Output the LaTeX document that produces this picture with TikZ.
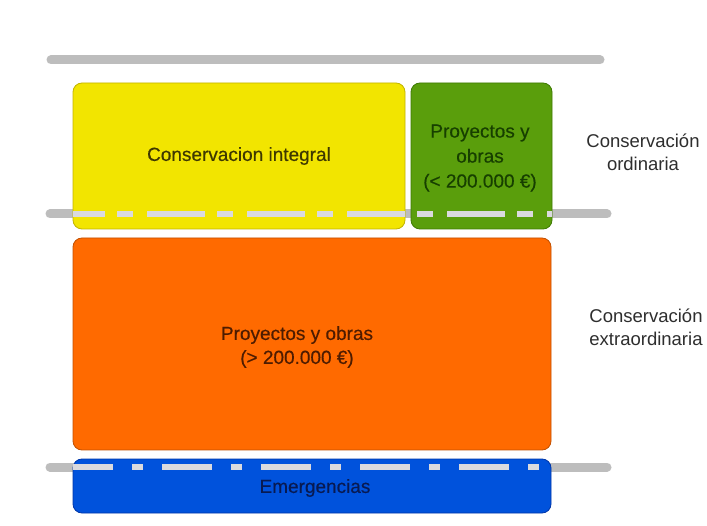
\documentclass[tikz,border=0pt]{standalone}
\usepackage{fontspec}
\setmainfont{Liberation Sans}
\newfontfamily\boxfont[FakeBold=0.35]{Liberation Sans}
\definecolor{barg}{HTML}{BDBDBD}
\definecolor{dashc}{HTML}{DADADE}
\definecolor{yelf}{HTML}{F2E500}
\definecolor{yeld}{HTML}{C2B400}
\definecolor{yelt}{HTML}{3E3800}
\definecolor{grnf}{HTML}{5A9E0C}
\definecolor{grnd}{HTML}{3E7A02}
\definecolor{grnt}{HTML}{173F00}
\definecolor{orgf}{HTML}{FF6A00}
\definecolor{orgd}{HTML}{C25000}
\definecolor{orgt}{HTML}{4E1C00}
\definecolor{bluf}{HTML}{0052DC}
\definecolor{blud}{HTML}{0036A8}
\definecolor{blut}{HTML}{081A52}
\definecolor{sidec}{HTML}{2E2E2E}
\begin{document}
\begin{tikzpicture}[x=1pt,y=-1pt,
  bar/.style={line width=9pt, draw=barg, line cap=round},
  box/.style={rounded corners=9pt, line width=0.8pt, inner sep=0pt, align=center,
              font=\boxfont\fontsize{19}{25}\selectfont},
  lbl/.style={align=center, font=\boxfont\fontsize{19}{24}\selectfont, inner sep=0pt},
  side/.style={align=center, font=\fontsize{18.5}{23}\selectfont, text=sidec, inner sep=0pt},
  dashA/.style={line width=6pt, draw=dashc, dash pattern=on 58pt off 12pt on 16pt off 14pt, dash phase=26pt},
  dashB/.style={line width=6pt, draw=dashc, dash pattern=on 50pt off 19pt on 11pt off 19pt, dash phase=10pt},
]
\useasboundingbox (0,0) rectangle (707,526);
\fill[white] (0,0) rectangle (707,526);

% bars
\coordinate (t1) at (51,60);
\coordinate (t2) at (600,60);
\coordinate (m1) at (50,214);
\coordinate (m2) at (607,214);
\coordinate (b1) at (50,467);
\coordinate (b2) at (607,467);
\draw[bar] (t1) -- (t2);
\draw[bar] (m1) -- (m2);
\draw[bar] (b1) -- (b2);

% boxes
\node[box, draw=yeld, fill=yelf, text=yelt, minimum width=332pt, minimum height=146pt]
  (integral) at (239,156) {Conservacion integral};
\node[box, draw=grnd, fill=grnf, minimum width=141pt, minimum height=146pt]
  (pequenas) at (481.5,156) {};
\node[box, draw=orgd, fill=orgf, minimum width=478pt, minimum height=212pt]
  (grandes) at (312,344) {};
\node[box, draw=blud, fill=bluf, minimum width=478pt, minimum height=54pt]
  (emerg) at (312,486) {};

% dashed overlays
\coordinate (dm1) at (73,214);
\coordinate (dm2) at (552,214);
\coordinate (db1) at (73,467);
\coordinate (db2) at (552,467);
\draw[dashA] (dm1) -- (dm2);
\draw[dashB] (db1) -- (db2);

% box labels
\node[lbl, text=grnt, font=\boxfont\fontsize{19}{25}\selectfont] (pequenasT) at (480,158) {Proyectos y\\obras\\(< 200.000 €)};
\node[lbl, text=orgt] (grandesT) at (297,347) {Proyectos y obras\\(> 200.000 €)};
\node[lbl, text=blut] (emergT) at (315,488) {Emergencias};

% side labels
\node[side] (ordin) at (643,152) {Conservación\\ordinaria};
\node[side] (extra) at (646,327) {Conservación\\extraordinaria};
\end{tikzpicture}
\end{document}
